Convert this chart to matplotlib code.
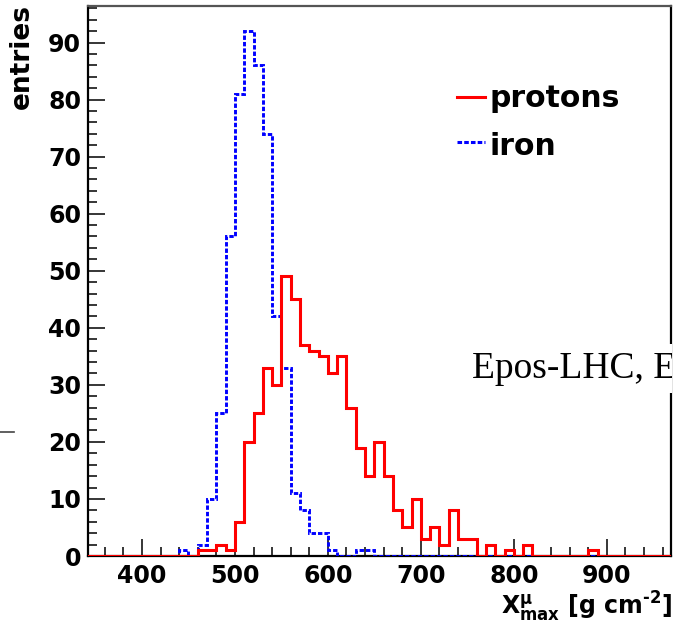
import numpy as np
import matplotlib
matplotlib.use("Agg")
import matplotlib.pyplot as plt
from matplotlib.ticker import MultipleLocator
from matplotlib.lines import Line2D
from matplotlib.transforms import Bbox, TransformedBbox

# Histogram binning (g cm^-2): 10-wide bins starting at 340
bin_width = 10
bin_start = 340
n_bins = 63

# Non-empty bins: lower edge -> entries
protons_counts = {
    460: 1, 470: 1, 480: 2, 490: 1, 500: 6, 510: 20, 520: 25, 530: 33,
    540: 30, 550: 49, 560: 45, 570: 37, 580: 36, 590: 35, 600: 32, 610: 35,
    620: 26, 630: 19, 640: 14, 650: 20, 660: 14, 670: 8, 680: 5, 690: 10,
    700: 3, 710: 5, 720: 2, 730: 8, 740: 3, 750: 3, 770: 2, 790: 1,
    810: 2, 880: 1,
}
iron_counts = {
    440: 1, 460: 2, 470: 10, 480: 25, 490: 56, 500: 81, 510: 92, 520: 86,
    530: 74, 540: 42, 550: 33, 560: 11, 570: 8, 580: 4, 590: 4, 600: 1,
    630: 1, 640: 1,
}

x_ticks = [400, 500, 600, 700, 800, 900]
y_ticks = [0, 10, 20, 30, 40, 50, 60, 70, 80, 90]

edges = bin_start + bin_width * np.arange(n_bins + 1)


def fill(counts):
    vals = np.zeros(n_bins)
    for lo, c in counts.items():
        vals[(lo - bin_start) // bin_width] = c
    return vals


protons = fill(protons_counts)
iron = fill(iron_counts)

plt.rcParams["font.family"] = ["DejaVu Sans"]
plt.rcParams["font.weight"] = "bold"
plt.rcParams["mathtext.fontset"] = "custom"
plt.rcParams["mathtext.rm"] = "DejaVu Sans:bold"
plt.rcParams["mathtext.bf"] = "DejaVu Sans:bold"
plt.rcParams["mathtext.it"] = "DejaVu Sans:bold"

W, H = 686, 625
fig = plt.figure(figsize=(W / 100, H / 100), dpi=100)
left, right, top, bottom = 88, 671, 6, 556
ax = fig.add_axes([left / W, 1 - bottom / H, (right - left) / W, (bottom - top) / H])

red = "#ff0000"
blue = "#0000ff"
dash = (0, (1.5, 0.7))

ax.stairs(iron, edges, color=blue, lw=2.1, linestyle=dash, baseline=0, zorder=3)
ax.stairs(protons, edges, color=red, lw=2.2, baseline=0, zorder=4)

ax.set_xlim(342, 969)
ax.set_ylim(0, 96.4)
ax.set_xticks(x_ticks)
ax.set_yticks(y_ticks)
ax.xaxis.set_minor_locator(MultipleLocator(20))
ax.yaxis.set_minor_locator(MultipleLocator(2))
ax.tick_params(which="both", direction="in", top=False, right=False,
               width=1.1, color="black")
ax.tick_params(which="major", length=12.5, labelsize=17)
ax.tick_params(which="minor", length=6.5)
ax.tick_params(axis="x", which="major", pad=6)
ax.tick_params(axis="y", which="major", pad=5)
for lab in ax.get_xticklabels() + ax.get_yticklabels():
    lab.set_fontweight("bold")

for side in ["left", "bottom", "right"]:
    ax.spines[side].set_linewidth(1.6)
    ax.spines[side].set_color("black")
ax.spines["top"].set_linewidth(1.6)
ax.spines["top"].set_color("#555555")

# Axis titles
fig.text(672 / W, 1 - 624 / H,
         r"$\mathbf{X}^{\mu}_{\mathbf{max}}$ [g cm$^{\text{-2}}$]",
         ha="right", va="bottom", fontsize=17, fontweight="bold")
fig.text(22 / W, 1 - 4 / H, "entries", rotation=90, ha="center", va="top",
         fontsize=19, fontweight="bold")

# Legend entries
legend_rows = [("protons", red, "-", 97, 106.7),
               ("iron", blue, dash, 142, 155)]
for label, color, ls, y_line, y_base in legend_rows:
    fig.add_artist(Line2D([457 / W, 485 / W], [1 - y_line / H, 1 - y_line / H],
                          transform=fig.transFigure, color=color, lw=2.2,
                          linestyle=ls))
    fig.text(490 / W, 1 - y_base / H, label, ha="left", va="baseline",
             fontsize=21.5, fontweight="bold")

# Model annotation, cut at the frame edge
t = ax.text(472 / W, 1 - 378 / H, "Epos-LHC, E", transform=fig.transFigure,
            family=["Liberation Serif"], fontweight="normal", fontsize=27,
            ha="left", va="baseline", zorder=6,
            bbox=dict(facecolor="white", edgecolor="none", pad=5))
t.set_clip_box(TransformedBbox(Bbox.from_extents(0, -0.1, 1.0015, 1.1),
                               ax.transAxes))
t.set_clip_on(True)

# Stray frame mark at the left margin
fig.add_artist(Line2D([0, 14 / W], [1 - 432 / H, 1 - 432 / H],
                      transform=fig.transFigure, color="#444444", lw=1.2))

fig.savefig("out.png", dpi=100)
